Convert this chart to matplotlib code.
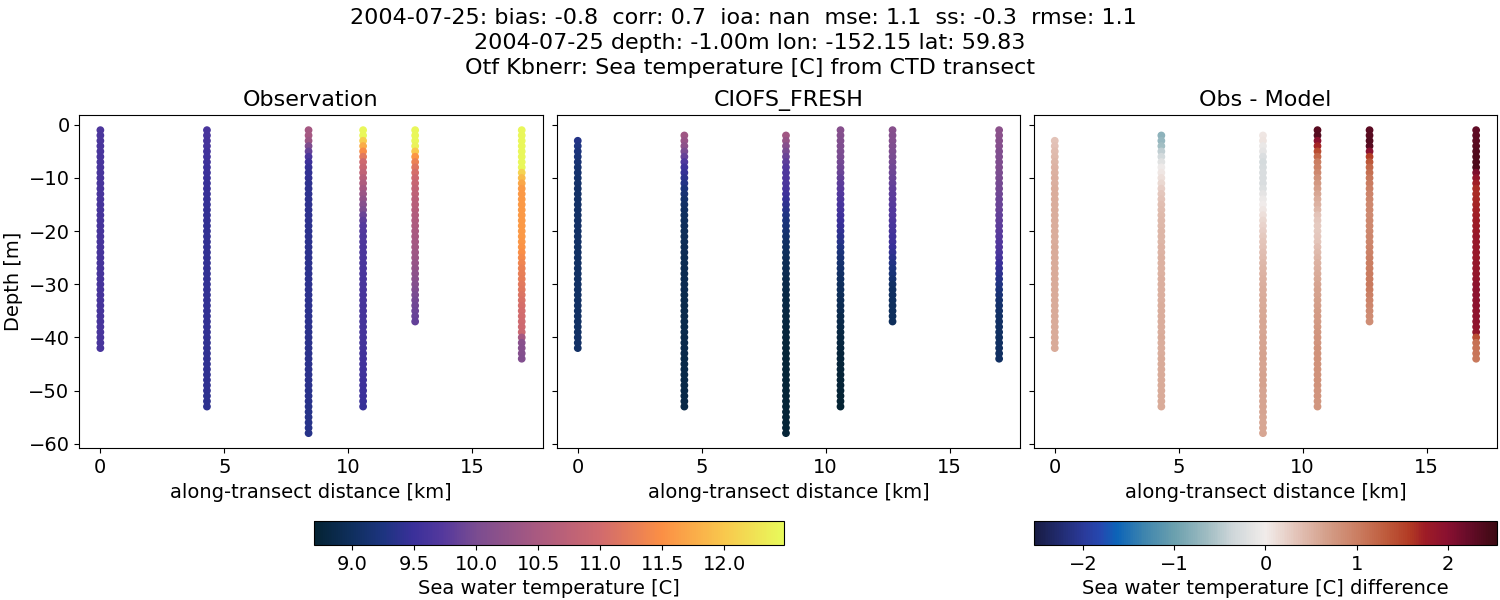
import numpy as np
from matplotlib import pyplot as plt
from matplotlib.cm import ScalarMappable
from matplotlib.colors import LinearSegmentedColormap, Normalize

# Distance of each CTD cast along the transect [km]
distances = [0, 4.3, 8.4, 10.6, 12.7, 17.0]

# Depth levels [m], one per metre
depths = [-1, -2, -3, -4, -5, -6, -7, -8, -9, -10,
          -11, -12, -13, -14, -15, -16, -17, -18, -19, -20,
          -21, -22, -23, -24, -25, -26, -27, -28, -29, -30,
          -31, -32, -33, -34, -35, -36, -37, -38, -39, -40,
          -41, -42, -43, -44, -45, -46, -47, -48, -49, -50,
          -51, -52, -53, -54, -55, -56, -57, -58]

# Index of the first depth level the model has at each cast
model_start = [2, 1, 1, 0, 0, 0]

# Observed temperature [C] per cast, from the first depth level down
obs_1 = [9.66, 9.65, 9.64, 9.63, 9.63, 9.62, 9.62, 9.62, 9.62, 9.62,
         9.61, 9.61, 9.61, 9.61, 9.60, 9.60, 9.60, 9.60, 9.60, 9.60,
         9.60, 9.60, 9.60, 9.60, 9.60, 9.60, 9.60, 9.60, 9.60, 9.60,
         9.60, 9.60, 9.60, 9.60, 9.60, 9.60, 9.60, 9.61, 9.61, 9.61,
         9.61, 9.61]
obs_2 = [9.62, 9.62, 9.60, 9.58, 9.55, 9.54, 9.52, 9.50, 9.49, 9.48,
         9.47, 9.46, 9.46, 9.45, 9.45, 9.44, 9.44, 9.44, 9.43, 9.43,
         9.42, 9.42, 9.42, 9.42, 9.42, 9.42, 9.42, 9.42, 9.42, 9.42,
         9.42, 9.42, 9.42, 9.42, 9.42, 9.42, 9.42, 9.42, 9.42, 9.42,
         9.41, 9.41, 9.41, 9.41, 9.41, 9.41, 9.41, 9.41, 9.41, 9.41,
         9.40, 9.40, 9.40]
obs_3 = [10.45, 10.45, 10.35, 10.05, 9.85, 9.65, 9.52, 9.45, 9.43, 9.42,
         9.40, 9.40, 9.40, 9.40, 9.39, 9.39, 9.39, 9.39, 9.38, 9.38,
         9.38, 9.38, 9.38, 9.38, 9.38, 9.38, 9.38, 9.38, 9.38, 9.38,
         9.38, 9.38, 9.38, 9.38, 9.38, 9.38, 9.38, 9.38, 9.37, 9.37,
         9.37, 9.37, 9.37, 9.37, 9.36, 9.36, 9.36, 9.36, 9.36, 9.35,
         9.35, 9.35, 9.34, 9.34, 9.33, 9.33, 9.33, 9.33]
obs_4 = [12.45, 12.45, 12.05, 11.75, 11.45, 11.20, 10.96, 10.88, 10.78, 10.65,
         10.55, 10.45, 10.32, 10.22, 10.12, 10.02, 9.88, 9.80, 9.74, 9.70,
         9.68, 9.67, 9.66, 9.65, 9.64, 9.63, 9.63, 9.63, 9.62, 9.62,
         9.62, 9.61, 9.61, 9.60, 9.60, 9.60, 9.59, 9.59, 9.58, 9.58,
         9.57, 9.57, 9.56, 9.56, 9.55, 9.54, 9.54, 9.53, 9.52, 9.51,
         9.50, 9.48, 9.46]
obs_5 = [12.45, 12.45, 12.45, 12.40, 12.00, 11.55, 11.30, 11.15, 11.05, 10.95,
         10.88, 10.80, 10.75, 10.70, 10.66, 10.62, 10.59, 10.56, 10.53, 10.50,
         10.47, 10.45, 10.42, 10.39, 10.35, 10.30, 10.25, 10.20, 10.15, 10.10,
         10.05, 10.00, 9.96, 9.92, 9.89, 9.86, 9.83]
obs_6 = [12.45, 12.45, 12.45, 12.45, 12.45, 12.45, 12.45, 12.45, 12.10, 11.90,
         11.70, 11.60, 11.58, 11.58, 11.58, 11.58, 11.58, 11.58, 11.58, 11.58,
         11.58, 11.56, 11.52, 11.48, 11.42, 11.36, 11.30, 11.27, 11.24, 11.20,
         11.17, 11.12, 11.08, 11.05, 11.02, 11.00, 10.98, 10.95, 10.92, 10.45,
         10.15, 10.12, 10.10, 10.08]

# Modelled temperature [C] per cast, from model_start down
model_1 = [9.30, 9.26, 9.22, 9.19, 9.16, 9.13, 9.11, 9.09, 9.08, 9.07,
           9.06, 9.06, 9.06, 9.06, 9.06, 9.05, 9.05, 9.05, 9.05, 9.05,
           9.04, 9.04, 9.04, 9.04, 9.04, 9.04, 9.04, 9.04, 9.04, 9.04,
           9.04, 9.04, 9.04, 9.04, 9.04, 9.04, 9.04, 9.05, 9.05, 9.05]
model_2 = [10.38, 10.30, 10.20, 10.00, 9.85, 9.68, 9.52, 9.45, 9.38, 9.30,
           9.22, 9.15, 9.10, 9.06, 9.03, 9.01, 8.99, 8.98, 8.97, 8.96,
           8.95, 8.94, 8.93, 8.92, 8.92, 8.91, 8.91, 8.90, 8.90, 8.90,
           8.89, 8.89, 8.88, 8.88, 8.88, 8.87, 8.87, 8.87, 8.86, 8.86,
           8.86, 8.86, 8.85, 8.85, 8.85, 8.85, 8.85, 8.84, 8.84, 8.84,
           8.84, 8.84]
model_3 = [10.40, 10.28, 10.12, 9.98, 9.88, 9.80, 9.72, 9.68, 9.66, 9.64,
           9.60, 9.52, 9.45, 9.40, 9.34, 9.28, 9.22, 9.18, 9.14, 9.10,
           9.06, 9.03, 9.00, 8.97, 8.94, 8.92, 8.90, 8.88, 8.86, 8.84,
           8.83, 8.82, 8.81, 8.80, 8.79, 8.78, 8.77, 8.76, 8.75, 8.74,
           8.74, 8.73, 8.73, 8.73, 8.73, 8.72, 8.72, 8.72, 8.72, 8.72,
           8.72, 8.72, 8.72, 8.72, 8.72, 8.72, 8.72]
model_4 = [10.12, 10.10, 10.08, 10.05, 10.02, 10.00, 9.96, 9.92, 9.88, 9.84,
           9.80, 9.76, 9.72, 9.68, 9.62, 9.58, 9.54, 9.50, 9.46, 9.42,
           9.38, 9.34, 9.28, 9.22, 9.17, 9.13, 9.10, 9.06, 9.03, 9.00,
           8.98, 8.96, 8.94, 8.92, 8.90, 8.88, 8.86, 8.84, 8.82, 8.80,
           8.78, 8.77, 8.76, 8.75, 8.74, 8.74, 8.73, 8.73, 8.72, 8.72,
           8.71, 8.71, 8.70]
model_5 = [10.13, 10.11, 10.09, 10.06, 10.03, 10.00, 9.97, 9.94, 9.91, 9.88,
           9.85, 9.82, 9.80, 9.78, 9.75, 9.72, 9.70, 9.66, 9.63, 9.60,
           9.55, 9.52, 9.48, 9.42, 9.36, 9.30, 9.24, 9.18, 9.12, 9.05,
           9.03, 9.02, 9.01, 9.00, 9.00, 8.99, 8.98]
model_6 = [10.18, 10.16, 10.14, 10.12, 10.08, 10.06, 10.05, 10.04, 10.02, 10.00,
           9.97, 9.95, 9.92, 9.90, 9.88, 9.86, 9.84, 9.82, 9.80, 9.78,
           9.75, 9.72, 9.69, 9.65, 9.60, 9.50, 9.45, 9.40, 9.34, 9.27,
           9.22, 9.17, 9.12, 9.10, 9.08, 9.06, 9.05, 9.04, 9.04, 9.03,
           9.03, 9.02, 9.02, 9.02]

obs_casts = [obs_1, obs_2, obs_3, obs_4, obs_5, obs_6]
model_casts = [model_1, model_2, model_3, model_4, model_5, model_6]

suptitle = ("2004-07-25: bias: -0.8  corr: 0.7  ioa: nan  mse: 1.1  ss: -0.3  rmse: 1.1  \n"
            "2004-07-25 depth: -1.00m lon: -152.15 lat: 59.83\n"
            "Otf Kbnerr: Sea temperature [C] from CTD transect")

# cmocean is not available, so thermal and balance are rebuilt from colours read off the bars
thermal = LinearSegmentedColormap.from_list("thermal", [
    (0.000, "#042333"), (0.080, "#0f2f5e"), (0.147, "#1d3480"), (0.210, "#3a309a"),
    (0.275, "#55399d"), (0.344, "#7a4c91"), (0.477, "#aa5a80"), (0.608, "#d06a6e"),
    (0.740, "#fb8f45"), (0.872, "#f9c74d"), (1.000, "#e8fa5b")])
balance = LinearSegmentedColormap.from_list("balance", [
    (0.000, "#181c43"), (0.107, "#2a3a9a"), (0.143, "#2548b0"), (0.179, "#0c64b8"),
    (0.236, "#3d84ae"), (0.303, "#6ba0ae"), (0.373, "#9fbcc2"), (0.430, "#cfd7da"),
    (0.500, "#f1ecea"), (0.568, "#e3c3b8"), (0.633, "#d49f8a"), (0.697, "#cb7f63"),
    (0.762, "#be5a3b"), (0.813, "#b23a24"), (0.845, "#9e1c26"), (0.893, "#8a1030"),
    (0.935, "#6a0c2a"), (1.000, "#3c0912")])

temp_norm = Normalize(vmin=8.69, vmax=12.48)
diff_norm = Normalize(vmin=-2.54, vmax=2.54)

plt.rcParams["font.size"] = 14

fig = plt.figure(figsize=(15, 6), dpi=100)
fig.suptitle(suptitle, fontsize=16, y=0.9875, linespacing=1.33)

# Axes positions in figure fractions
bottom = 1 - 448.3 / 600
height = 333.3 / 600
ax_obs = fig.add_axes([79.3 / 1500, bottom, 463.5 / 1500, height])
ax_model = fig.add_axes([556.7 / 1500, bottom, 463.5 / 1500, height], sharex=ax_obs, sharey=ax_obs)
ax_diff = fig.add_axes([1033.7 / 1500, bottom, 463.5 / 1500, height], sharex=ax_obs, sharey=ax_obs)

for x, start, obs, model in zip(distances, model_start, obs_casts, model_casts):
    obs = np.array(obs)
    model = np.array(model)
    z_obs = depths[:len(obs)]
    z_model = depths[start:start + len(model)]
    diff = obs[start:] - model

    ax_obs.scatter([x] * len(obs), z_obs, c=obs, s=21, cmap=thermal, norm=temp_norm)
    ax_model.scatter([x] * len(model), z_model, c=model, s=21, cmap=thermal, norm=temp_norm)
    ax_diff.scatter([x] * len(model), z_model, c=diff, s=21, cmap=balance, norm=diff_norm)

ax_obs.set_title("Observation", fontsize=16, pad=6.7)
ax_model.set_title("CIOFS_FRESH", fontsize=16, pad=6.7)
ax_diff.set_title("Obs - Model", fontsize=16, pad=6.7)
ax_obs.set_ylabel("Depth [m]")
for ax in [ax_obs, ax_model, ax_diff]:
    ax.set_xlabel("along-transect distance [km]")
    ax.set_xticks([0, 5, 10, 15])
    ax.set_yticks([0, -10, -20, -30, -40, -50, -60])
ax_model.tick_params(labelleft=False)
ax_diff.tick_params(labelleft=False)

# Colour bars
cax_temp = fig.add_axes([314 / 1500, 1 - 545 / 600, 470 / 1500, 24 / 600])
cb_temp = fig.colorbar(ScalarMappable(norm=temp_norm, cmap=thermal), cax=cax_temp, orientation="horizontal")
cb_temp.set_ticks([9.0, 9.5, 10.0, 10.5, 11.0, 11.5, 12.0])
cb_temp.set_label("Sea water temperature [C]")

cax_diff = fig.add_axes([1033.7 / 1500, 1 - 545 / 600, 463.5 / 1500, 24 / 600])
cb_diff = fig.colorbar(ScalarMappable(norm=diff_norm, cmap=balance), cax=cax_diff, orientation="horizontal")
cb_diff.set_ticks([-2, -1, 0, 1, 2])
cb_diff.set_label("Sea water temperature [C] difference")

fig.savefig("out.png", dpi=100)
